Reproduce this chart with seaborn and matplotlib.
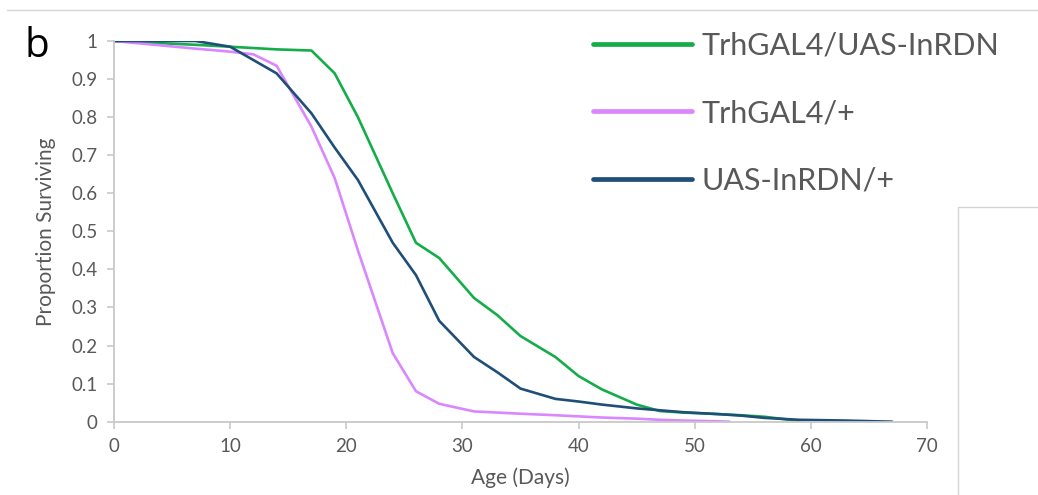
import numpy as np
import pandas as pd
import matplotlib
matplotlib.use("Agg")
import matplotlib.pyplot as plt
from matplotlib.lines import Line2D
import seaborn as sns

# ---- data ----
labels = ["TrhGAL4/UAS-InRDN", "TrhGAL4/+", "UAS-InRDN/+"]

days_green = [0, 7, 10, 14, 17, 19, 21, 24, 26, 28, 31, 33, 35, 38, 40, 42, 45, 47, 49, 52, 54, 56, 59]
surv_green = [1.0, 0.99, 0.985, 0.978, 0.975, 0.915, 0.80, 0.60, 0.47, 0.43, 0.325, 0.28, 0.225,
              0.17, 0.12, 0.085, 0.045, 0.028, 0.024, 0.02, 0.017, 0.013, 0.002]

days_pink = [0, 7, 10, 12, 14, 17, 19, 21, 24, 26, 28, 31, 33, 35, 38, 40, 42, 45, 47, 49, 52, 53]
surv_pink = [1.0, 0.98, 0.972, 0.965, 0.935, 0.775, 0.64, 0.45, 0.18, 0.08, 0.047, 0.027, 0.024,
             0.021, 0.017, 0.014, 0.011, 0.008, 0.005, 0.003, 0.001, 0.0]

days_navy = [0, 7, 10, 14, 17, 19, 21, 24, 26, 28, 31, 33, 35, 38, 40, 42, 45, 47, 49, 52, 54, 56, 59, 61, 63, 67]
surv_navy = [1.0, 1.0, 0.985, 0.915, 0.81, 0.72, 0.635, 0.47, 0.385, 0.265, 0.17, 0.13, 0.087,
             0.06, 0.053, 0.045, 0.035, 0.03, 0.025, 0.02, 0.016, 0.01, 0.005, 0.004, 0.003, 0.0]

x_ticks = [0, 10, 20, 30, 40, 50, 60, 70]
y_ticks = [0, 0.1, 0.2, 0.3, 0.4, 0.5, 0.6, 0.7, 0.8, 0.9, 1.0]
y_ticklabels = ["0", "0.1", "0.2", "0.3", "0.4", "0.5", "0.6", "0.7", "0.8", "0.9", "1"]

colors = {labels[0]: "#14AD4A", labels[1]: "#DA87FF", labels[2]: "#1F4E79"}

df = pd.concat([
    pd.DataFrame({"Age": days_green, "Surv": surv_green, "Genotype": labels[0]}),
    pd.DataFrame({"Age": days_pink, "Surv": surv_pink, "Genotype": labels[1]}),
    pd.DataFrame({"Age": days_navy, "Surv": surv_navy, "Genotype": labels[2]}),
], ignore_index=True)

sns.set_theme(style="white")
plt.rcParams["font.family"] = ["Lato", "DejaVu Sans"]

W, H = 1038, 495
fig = plt.figure(figsize=(W / 100, H / 100), dpi=100)
ax = fig.add_axes([114 / W, 1 - 421.7 / H, (927 - 114) / W, (421.7 - 41) / H])

sns.lineplot(data=df, x="Age", y="Surv", hue="Genotype", palette=colors,
             hue_order=labels, estimator=None, sort=False, linewidth=1.9, ax=ax)

ax.set_xlim(0, 70)
ax.set_ylim(0, 1)
ax.set_xticks(x_ticks)
ax.set_yticks(y_ticks)
ax.set_yticklabels(y_ticklabels)
grey_txt = "#595959"
spine_col = "#C8C8C8"
for s in ["top", "right"]:
    ax.spines[s].set_visible(False)
for s in ["left", "bottom"]:
    ax.spines[s].set_color(spine_col)
    ax.spines[s].set_linewidth(1.3)
ax.tick_params(axis="both", which="major", direction="out", length=5, width=1.2,
               color=spine_col, labelcolor=grey_txt, labelsize=13.5, left=True, bottom=True)
ax.tick_params(axis="x", pad=7)
ax.tick_params(axis="y", pad=7)
ax.set_xlabel("Age (Days)", color=grey_txt, fontsize=15, labelpad=9)
ax.set_ylabel("Proportion Surviving", color=grey_txt, fontsize=15, labelpad=11)

# legend
handles = [Line2D([0], [0], color=colors[l], lw=3.4, solid_capstyle="round") for l in labels]
leg = ax.legend(handles, labels, loc="upper left", bbox_to_anchor=(593 / W, 1 - 32 / H),
                bbox_transform=fig.transFigure, frameon=False, fontsize=22,
                handlelength=3.25, handletextpad=0.3, labelspacing=1.28,
                borderpad=0, borderaxespad=0)
for t in leg.get_texts():
    t.set_color(grey_txt)

# panel letter
fig.text(25 / W, 1 - 57 / H, "b", fontsize=29, color="black", ha="left", va="baseline",
         family=["Open Sans", "DejaVu Sans"], fontweight="medium")

# crop artefact lines from the original figure
lc = "#D4D4D4"
fig.add_artist(Line2D([7 / W, 1], [1 - 10 / H, 1 - 10 / H], transform=fig.transFigure, color=lc, lw=1))
fig.add_artist(Line2D([958 / W, 958 / W], [0, 1 - 207 / H], transform=fig.transFigure, color=lc, lw=1))
fig.add_artist(Line2D([958 / W, 1], [1 - 207 / H, 1 - 207 / H], transform=fig.transFigure, color=lc, lw=1))

fig.savefig("out.png", dpi=100)
